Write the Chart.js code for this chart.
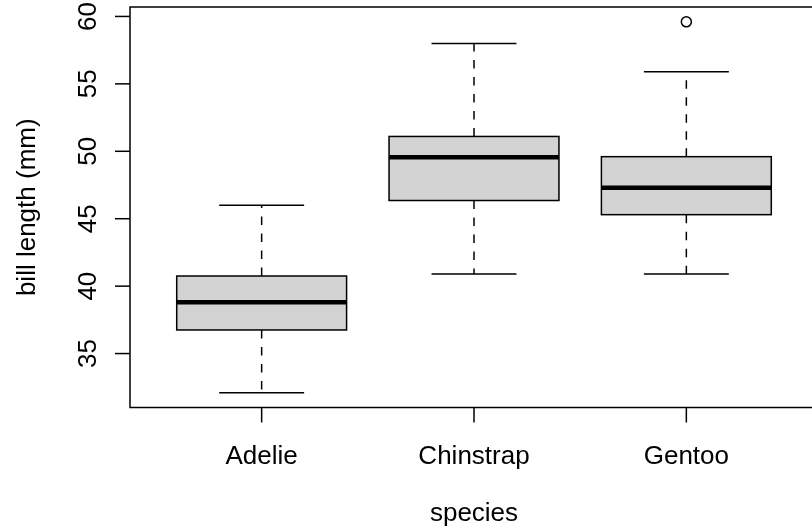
<!DOCTYPE html>
<html>
<head>
<meta charset="utf-8">
<script src="https://cdn.jsdelivr.net/npm/chart.js@4"></script>
<style>
  html, body { margin: 0; padding: 0; overflow: hidden; background: #fff; }
  #wrap { width: 830px; height: 531px; position: relative; }
</style>
</head>
<body>
<div id="wrap"><canvas id="chart"></canvas></div>
<script>
// Penguin bill length by species: five-number summaries per group
const species      = ['Adelie', 'Chinstrap', 'Gentoo'];
const whiskerLow   = [32.1, 40.9, 40.9];
const q1           = [36.75, 46.35, 45.3];
const median       = [38.8, 49.55, 47.3];
const q3           = [40.75, 51.1, 49.6];
const whiskerHigh  = [46.0, 58.0, 55.9];
const outliers     = [[], [], [59.6]];
const yTicks       = [35, 40, 45, 50, 55, 60];

const FONT = '"Liberation Sans", Arial, Helvetica, sans-serif';
const FS = 26;
const LW = 1.5;
const BOX_HALF = 0.4;   // half box width in group units

const boxData = species.map((s, i) => ({ x: i + 1, y: [q1[i], q3[i]] }));
const outlierData = [];
outliers.forEach((arr, i) => arr.forEach(v => outlierData.push({ x: i + 1, y: v })));

// Whiskers, staples, box outlines, medians, frame, axes and titles
const boxplotPlugin = {
  id: 'boxplotParts',
  afterDatasetsDraw(chart) {
    const ctx = chart.ctx;
    const xs = chart.scales.x, ys = chart.scales.y;
    const ca = chart.chartArea;
    const meta = chart.getDatasetMeta(0);
    ctx.save();
    ctx.strokeStyle = '#000';
    ctx.lineCap = 'butt';
    species.forEach((s, i) => {
      const bar = meta.data[i].getProps(['x', 'width'], true);
      const cx = bar.x;
      const half = bar.width / 2;
      const yLo = ys.getPixelForValue(whiskerLow[i]);
      const yQ1 = ys.getPixelForValue(q1[i]);
      const yMed = ys.getPixelForValue(median[i]);
      const yQ3 = ys.getPixelForValue(q3[i]);
      const yHi = ys.getPixelForValue(whiskerHigh[i]);
      // dashed whiskers
      ctx.lineWidth = LW;
      ctx.setLineDash([8.5, 8.5]);
      ctx.beginPath();
      ctx.moveTo(cx, yQ1); ctx.lineTo(cx, yLo);
      ctx.moveTo(cx, yQ3); ctx.lineTo(cx, yHi);
      ctx.stroke();
      ctx.setLineDash([]);
      // staples
      ctx.beginPath();
      ctx.moveTo(cx - half / 2, yLo); ctx.lineTo(cx + half / 2, yLo);
      ctx.moveTo(cx - half / 2, yHi); ctx.lineTo(cx + half / 2, yHi);
      ctx.stroke();
      // box outline
      ctx.strokeRect(cx - half, yQ3, bar.width, yQ1 - yQ3);
      // median
      ctx.lineWidth = 4.5;
      ctx.beginPath();
      ctx.moveTo(cx - half, yMed); ctx.lineTo(cx + half, yMed);
      ctx.stroke();
    });

    // frame
    ctx.lineWidth = LW;
    ctx.beginPath();
    ctx.moveTo(ca.right, ca.top); ctx.lineTo(ca.left, ca.top);
    ctx.lineTo(ca.left, ca.bottom); ctx.lineTo(ca.right, ca.bottom);
    ctx.stroke();

    ctx.fillStyle = '#000';
    ctx.font = FS + 'px ' + FONT;

    // y axis ticks and rotated labels
    yTicks.forEach(v => {
      const y = ys.getPixelForValue(v);
      ctx.beginPath();
      ctx.moveTo(ca.left - 15, y); ctx.lineTo(ca.left, y);
      ctx.stroke();
      ctx.save();
      ctx.translate(96, y);
      ctx.rotate(-Math.PI / 2);
      ctx.textAlign = 'center';
      ctx.textBaseline = 'alphabetic';
      ctx.fillText(String(v), 0, 0);
      ctx.restore();
    });

    // x axis ticks and labels
    species.forEach((s, i) => {
      const x = xs.getPixelForValue(i + 1);
      ctx.beginPath();
      ctx.moveTo(x, ca.bottom); ctx.lineTo(x, ca.bottom + 15);
      ctx.stroke();
      ctx.textAlign = 'center';
      ctx.textBaseline = 'alphabetic';
      ctx.fillText(s, x, 464);
    });

    // axis titles
    ctx.textAlign = 'center';
    ctx.textBaseline = 'alphabetic';
    ctx.fillText('species', (ca.left + ca.right) / 2, 521);
    ctx.save();
    ctx.translate(35, (ca.top + ca.bottom) / 2);
    ctx.rotate(-Math.PI / 2);
    ctx.fillText('bill length (mm)', 0, 0);
    ctx.restore();

    ctx.restore();
  }
};

new Chart(document.getElementById('chart'), {
  type: 'bar',
  data: {
    datasets: [
      {
        type: 'bar',
        data: boxData,
        backgroundColor: '#D3D3D3',
        borderWidth: 0,
        barThickness: (c) => {
          const s = c.chart.scales.x;
          return Math.abs(s.getPixelForValue(1 + BOX_HALF) - s.getPixelForValue(1 - BOX_HALF));
        }
      },
      {
        type: 'scatter',
        data: outlierData,
        pointStyle: 'circle',
        pointRadius: 5,
        pointBackgroundColor: 'rgba(255,255,255,0)',
        pointBorderColor: '#000',
        pointBorderWidth: 1.5
      }
    ]
  },
  options: {
    responsive: true,
    maintainAspectRatio: false,
    animation: false,
    layout: { padding: { left: 130, top: 7, right: 12, bottom: 123.5 } },
    plugins: { legend: { display: false }, tooltip: { enabled: false } },
    scales: {
      x: { type: 'linear', offset: false, min: 0.38, max: 3.62, display: false },
      y: { type: 'linear', min: 31.0, max: 60.7, display: false }
    }
  },
  plugins: [boxplotPlugin]
});
</script>
</body>
</html>
